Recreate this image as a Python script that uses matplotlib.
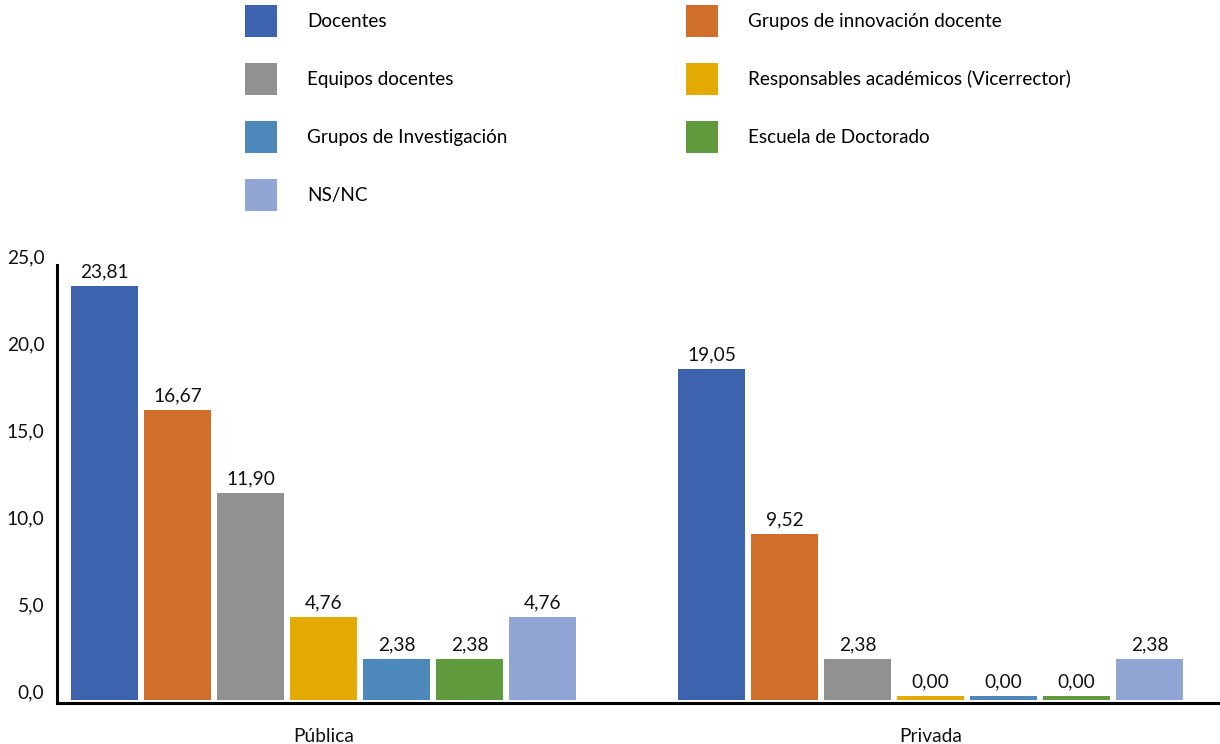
import matplotlib
matplotlib.use("Agg")
import matplotlib.pyplot as plt
from matplotlib.patches import Patch
import matplotlib.transforms as mtransforms
import numpy as np

plt.rcParams['font.family'] = ['Lato', 'DejaVu Sans']

categories = ["Pública", "Privada"]
series = ["Docentes", "Grupos de innovación docente", "Equipos docentes",
          "Responsables académicos (Vicerrector)", "Grupos de Investigación",
          "Escuela de Doctorado", "NS/NC"]
values = {
    "Docentes": [23.81, 19.05],
    "Grupos de innovación docente": [16.67, 9.52],
    "Equipos docentes": [11.90, 2.38],
    "Responsables académicos (Vicerrector)": [4.76, 0.00],
    "Grupos de Investigación": [2.38, 0.00],
    "Escuela de Doctorado": [2.38, 0.00],
    "NS/NC": [4.76, 2.38],
}
colors = ["#3D62AE", "#D06E2B", "#919191", "#E2AA03", "#4D88BA", "#5F9A3D", "#91A5D4"]
yticks = [0, 5, 10, 15, 20, 25]

fig = plt.figure(figsize=(12.2, 7.44), dpi=100)
ax = fig.add_axes([57/1220, 41/744, 1 - 57/1220, 438/744])

pitch = 0.1203
width = 0.1104
min_bar = 0.25
lab_fs = 13.8
x = np.arange(len(categories))
handles = []
for i, (s, c) in enumerate(zip(series, colors)):
    offs = (i - 3) * pitch
    vals = values[s]
    heights = [max(v, min_bar) for v in vals]
    ax.bar(x + offs, heights, width=width, color=c, zorder=2)
    for xi, v, h in zip(x, vals, heights):
        ax.annotate(f"{v:.2f}".replace('.', ','), (xi + offs, h),
                    xytext=(0, 4), textcoords='offset points',
                    ha='center', va='bottom', fontsize=lab_fs, color='#111111')
    handles.append(Patch(facecolor=c, edgecolor='none', label=s))

ax.set_xlim(-0.439, 1.477)
ax.set_ylim(-0.17, 25)
ax.set_yticks(yticks)
ax.set_yticklabels([f"{t:.1f}".replace('.', ',') for t in yticks])
ax.set_xticks(x)
ax.set_xticklabels(categories)
ax.tick_params(axis='both', length=0, labelsize=lab_fs, colors='#111111')
ax.tick_params(axis='y', pad=9)
ax.tick_params(axis='x', pad=18)
off = mtransforms.ScaledTranslation(0, 9/100, fig.dpi_scale_trans)
for lab in ax.get_yticklabels():
    lab.set_transform(lab.get_transform() + off)

for sp in ['top', 'right']:
    ax.spines[sp].set_visible(False)
ax.spines['left'].set_linewidth(2.2)
ax.spines['bottom'].set_linewidth(2.2)

order = [0, 2, 4, 6, 1, 3, 5]
fs = 13.6
fpx = fs * 100 / 72
hh = (32 / fpx - 0.245) / 0.65
fig.legend([handles[i] for i in order], [series[i] for i in order],
           loc='upper left', bbox_to_anchor=(245/1220, 1 - 5/744),
           ncol=2, frameon=False, fontsize=fs,
           handlelength=32/fpx, handleheight=hh, handletextpad=30/fpx,
           labelspacing=26/fpx, columnspacing=179/fpx, borderpad=0, borderaxespad=0)

fig.savefig("out.png", dpi=100)
